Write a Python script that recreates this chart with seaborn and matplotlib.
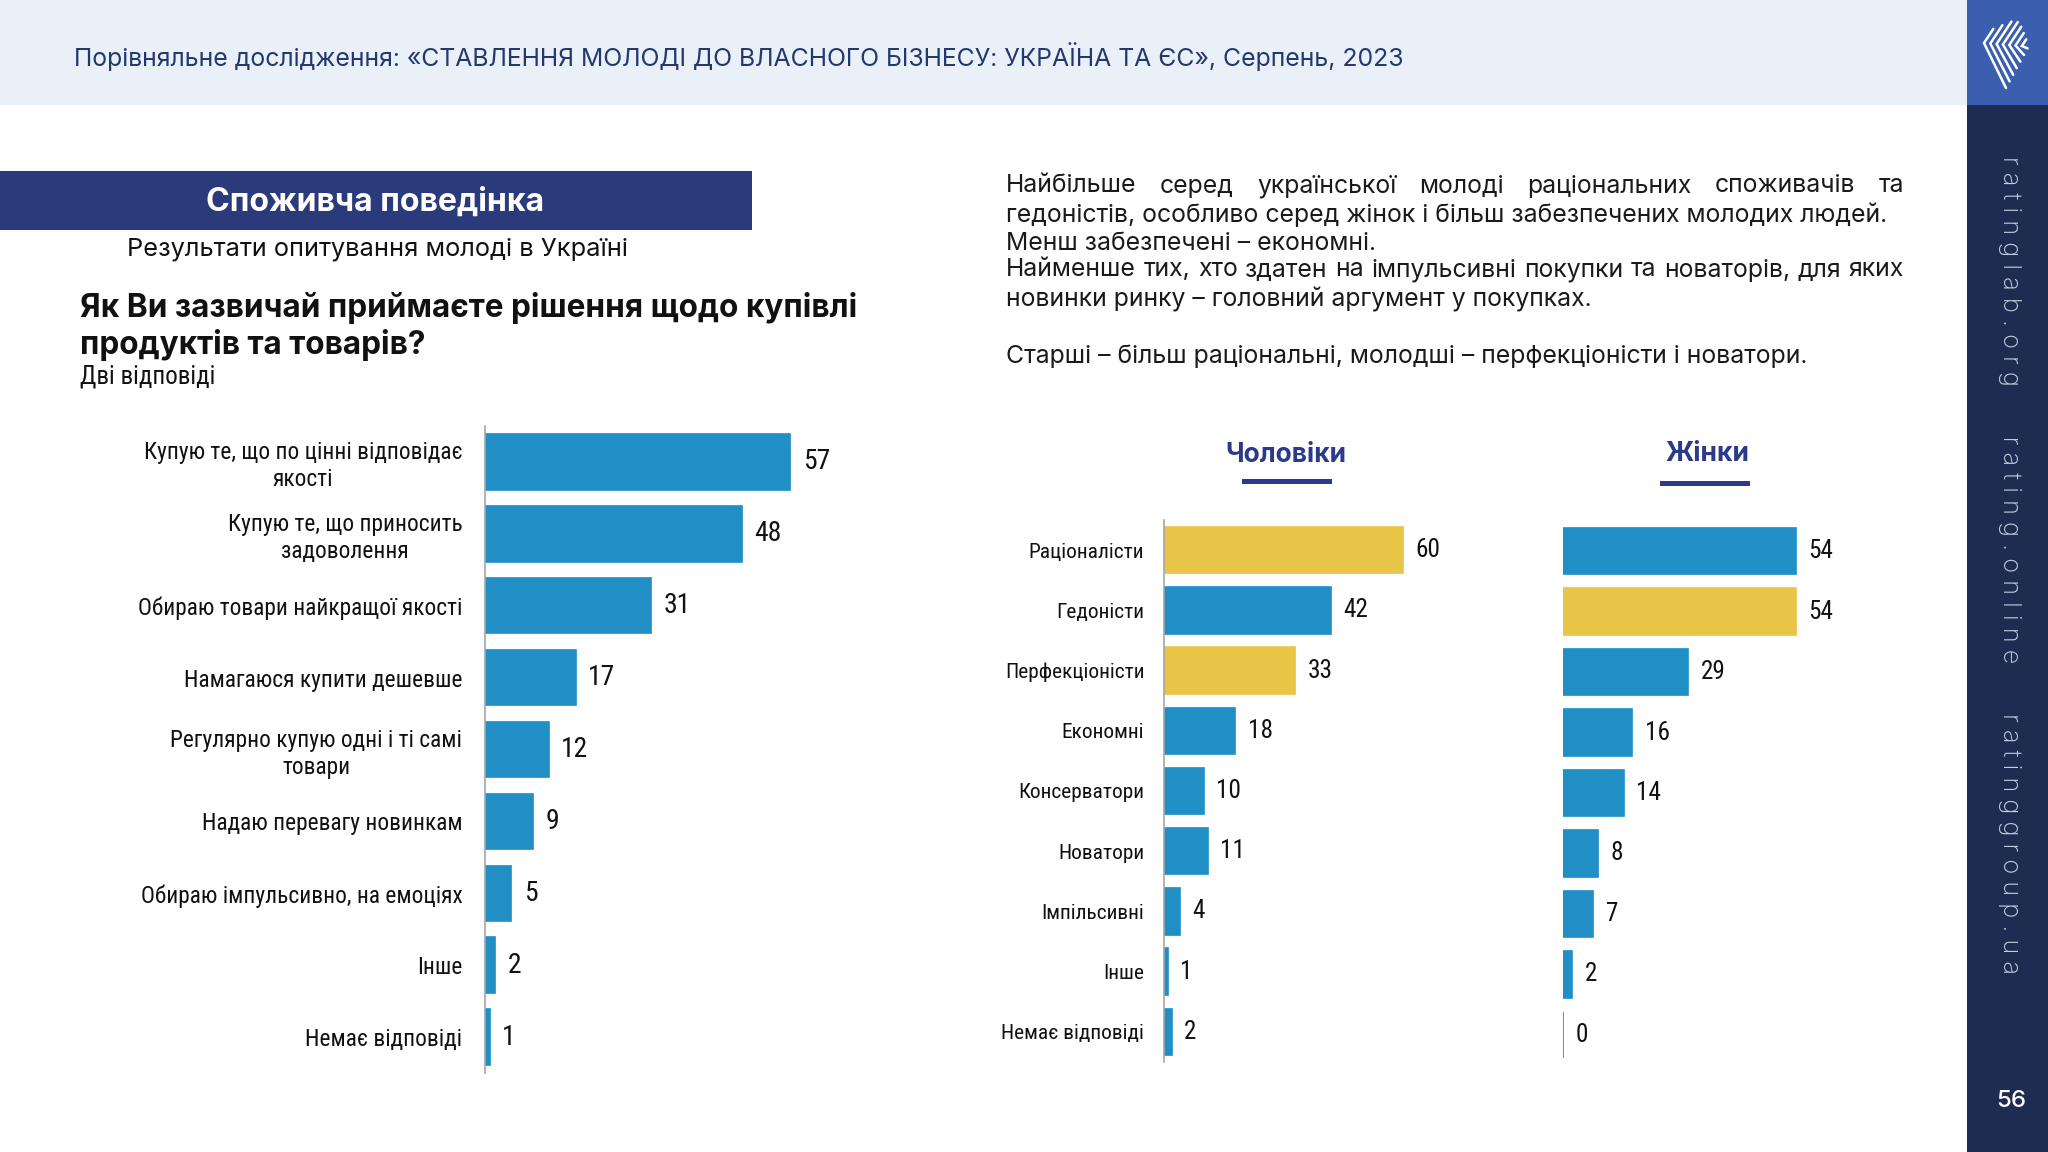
import numpy as np
import matplotlib
matplotlib.use('Agg')
import matplotlib.pyplot as plt
import seaborn as sns
from matplotlib import font_manager
from matplotlib.lines import Line2D
from matplotlib.patches import Rectangle

# ---- data ----
left_labels = ['Купую те, що по цінні відповідає\nякості',
               'Купую те, що приносить\nзадоволення',
               'Обираю товари найкращої якості',
               'Намагаюся купити дешевше',
               'Регулярно купую одні і ті самі\nтовари',
               'Надаю перевагу новинкам',
               'Обираю імпульсивно, на емоціях',
               'Інше',
               'Немає відповіді']
left_values = [57, 48, 31, 17, 12, 9, 5, 2, 1]

types = ['Раціоналісти', 'Гедоністи', 'Перфекціоністи', 'Економні',
         'Консерватори', 'Новатори', 'Імпільсивні', 'Інше', 'Немає відповіді']
men_values = [60, 42, 33, 18, 10, 11, 4, 1, 2]
women_values = [54, 54, 29, 16, 14, 8, 7, 2, 0]
men_highlight = ['Раціоналісти', 'Перфекціоністи']
women_highlight = ['Гедоністи']

header_text = 'Порівняльне дослідження: «СТАВЛЕННЯ МОЛОДІ ДО ВЛАСНОГО БІЗНЕСУ: УКРАЇНА ТА ЄС», Серпень, 2023'
section_title = 'Споживча поведінка'
subtitle = 'Результати опитування молоді в Україні'
question = ['Як Ви зазвичай приймаєте рішення щодо купівлі', 'продуктів та товарів?']
note = 'Дві відповіді'
paragraph = ['Найбільше серед української молоді раціональних споживачів та',
             'гедоністів, особливо серед жінок і більш забезпечених молодих людей.',
             'Менш забезпечені – економні.',
             'Найменше тих, хто здатен на імпульсивні покупки та новаторів, для яких',
             'новинки ринку – головний аргумент у покупках.',
             'Старші – більш раціональні, молодші – перфекціоністи і новатори.']
justified = [True, False, False, True, False, False]
sidebar_text = 'ratinglab.org   rating.online   ratinggroup.ua'
page_no = '56'

BLUE = '#1F8FC6'
YELLOW = '#E8C447'
NAVY = '#2A3A7A'
W, H = 2048, 1152

sns.set_style('white')
names = {f.name for f in font_manager.fontManager.ttflist}
NARROW = next((n for n in ['Liberation Sans Narrow', 'Roboto Condensed', 'Arial Narrow', 'Roboto']
               if n in names), 'DejaVu Sans')
MAIN = 'Inter' if 'Inter' in names else 'DejaVu Sans'
plt.rcParams['font.family'] = [MAIN, 'DejaVu Sans']

fig = plt.figure(figsize=(W / 100, H / 100), dpi=100)
fig.patch.set_facecolor('white')
renderer = fig.canvas.get_renderer()


def fx(x):
    return x / W


def fy(y):
    return 1 - y / H


def rect(x0, y0, x1, y1, color, z=0):
    fig.add_artist(Rectangle((fx(x0), fy(y1)), (x1 - x0) / W, (y1 - y0) / H,
                             transform=fig.transFigure, color=color, zorder=z, lw=0))


def measure(s, size, **kw):
    t = fig.text(0, 0, s, fontsize=size, **kw)
    w = t.get_window_extent(renderer).width
    t.remove()
    return w


def fit(s, width, **kw):
    return 20 * width / measure(s, 20, **kw)


def txt(x, y, s, **kw):
    return fig.text(fx(x), fy(y), s, **kw)


def justify(x0, x1, y, s, size, **kw):
    words = s.split()
    widths = [measure(w, size, **kw) for w in words]
    gap = (x1 - x0 - sum(widths)) / (len(words) - 1)
    x = x0
    for w, wd in zip(words, widths):
        txt(x, y, w, fontsize=size, va='center', ha='left', **kw)
        x += wd + gap


# ---- page furniture ----
rect(0, 0, 1967, 105, '#EAF0F8')
rect(1967, 0, W, 105, '#3B5FAE')
rect(1967, 105, W, H, '#1F2C52')
rect(0, 171, 752, 230, NAVY)

# logo: nested white chevrons
for i in range(7):
    vx, vy = 1984 + 6.3 * i, 43 + 0.5 * i
    up = [17, 22, 27, 27, 22, 15, 8][i]
    ex, ey = 2006 + 3.6 * i, 88 - 6.6 * i
    xs = [vx + up * 0.55, vx, ex]
    ys = [vy - up * 0.83, vy, ey]
    fig.add_artist(Line2D([fx(v) for v in xs], [fy(v) for v in ys],
                          transform=fig.transFigure, color='white', lw=1.8,
                          solid_joinstyle='miter', zorder=3))

# header
s = fit(header_text, 1333)
txt(74, 57, header_text, fontsize=s, color='#24376E', va='center', ha='left')

# section box title
s = fit(section_title, 339, fontweight='bold')
txt(375, 202, section_title, fontsize=s, fontweight='bold', color='white',
    va='center', ha='center')

s = fit(subtitle, 500)
txt(127, 249, subtitle, fontsize=s, color='#111111', va='center', ha='left')

s = fit(question[0], 778, fontweight='bold')
txt(80, 308, question[0], fontsize=s, fontweight='bold', color='#111111', va='center')
txt(80, 345, question[1], fontsize=s, fontweight='bold', color='#111111', va='center')

s = fit(note, 135, family=NARROW)
txt(80, 376, note, fontsize=s, family=NARROW, color='#111111', va='center')

# paragraph on the right
ps = fit(paragraph[1], 880)
line_y = [186, 215, 243, 270, 299, 356]
for line, y, j in zip(paragraph, line_y, justified):
    if j:
        justify(1006, 1904, y, line, ps, color='#1A1A1A')
    else:
        txt(1006, y, line, fontsize=ps, color='#1A1A1A', va='center')

# sidebar text and page number
s = fit(' '.join(sidebar_text), 823, fontweight='light')
txt(2009, 565, ' '.join(sidebar_text), fontsize=s, fontweight='light',
    color='#C5CEE0', rotation=270, va='center', ha='center')
s = fit(page_no, 30, fontweight='medium')
txt(2011, 1101, page_no, fontsize=s, fontweight='medium', color='white',
    va='center', ha='center')

# gender headers
for name, cx, y, x0, x1, uy in [('Чоловіки', 1286, 455, 1242, 1332, 479),
                                ('Жінки', 1707, 454, 1660, 1750, 481)]:
    s = fit(name, 121 if name == 'Чоловіки' else 84, fontweight='bold')
    txt(cx, y, name, fontsize=s, fontweight='bold', color='#2B3A8A',
        va='center', ha='center')
    rect(x0, uy, x1, uy + 5, '#2B3A8A')

# ---- bar charts ----
left_size = fit('Обираю товари найкращої якості', 324, family=NARROW)
right_size = fit('Перфекціоністи', 140, family=NARROW)


def bar_chart(ax, labels, values, colors, xmax, size, pad, show_axis=True):
    sns.barplot(x=values, y=labels, hue=labels, palette=colors, legend=False,
                orient='h', width=0.77, saturation=1, ax=ax)
    for p in ax.patches:
        p.set_edgecolor(p.get_facecolor())
        p.set_linewidth(1.2)
    for c in ax.containers:
        ax.bar_label(c, fmt='%g', padding=9, fontsize=size * 1.18, family=NARROW,
                     color='#111111')
    ax.set_xlim(0, xmax)
    ax.set_ylim(len(values) - 0.5, -0.5)
    ax.set_xticks([])
    ax.set_xlabel('')
    ax.set_ylabel('')
    ax.patch.set_alpha(0)
    for sp in ['top', 'right', 'bottom']:
        ax.spines[sp].set_visible(False)
    if show_axis:
        ax.spines['left'].set_color('#A6A6A6')
        ax.spines['left'].set_linewidth(1.2)
        ax.set_yticks(np.arange(-0.5, len(values), 1), minor=True)
        ax.tick_params(axis='y', which='minor', length=6, width=1.2, color='#A6A6A6')
        ax.tick_params(axis='y', which='major', length=0, pad=pad)
        for lab in ax.get_yticklabels():
            lab.set_fontsize(size)
            lab.set_family(NARROW)
            lab.set_multialignment('center')
            lab.set_color('#111111')
    else:
        ax.spines['left'].set_visible(False)
        ax.set_yticks([])


ax1 = fig.add_axes([fx(484.5), fy(1073), 321.6 / W, (1073 - 426) / H])
bar_chart(ax1, left_labels, left_values, [BLUE] * len(left_values), 60, left_size, 16)

ax2 = fig.add_axes([fx(1163.7), fy(1062), 278.9 / W, (1062 - 520) / H])
bar_chart(ax2, types, men_values,
          [YELLOW if t in men_highlight else BLUE for t in types], 70, right_size, 14)

ax3 = fig.add_axes([fx(1563.3), fy(1065), 301.7 / W, (1065 - 521) / H])
bar_chart(ax3, types, women_values,
          [YELLOW if t in women_highlight else BLUE for t in types], 70, right_size, 14,
          show_axis=False)

fig.savefig('out.png', dpi=100)
